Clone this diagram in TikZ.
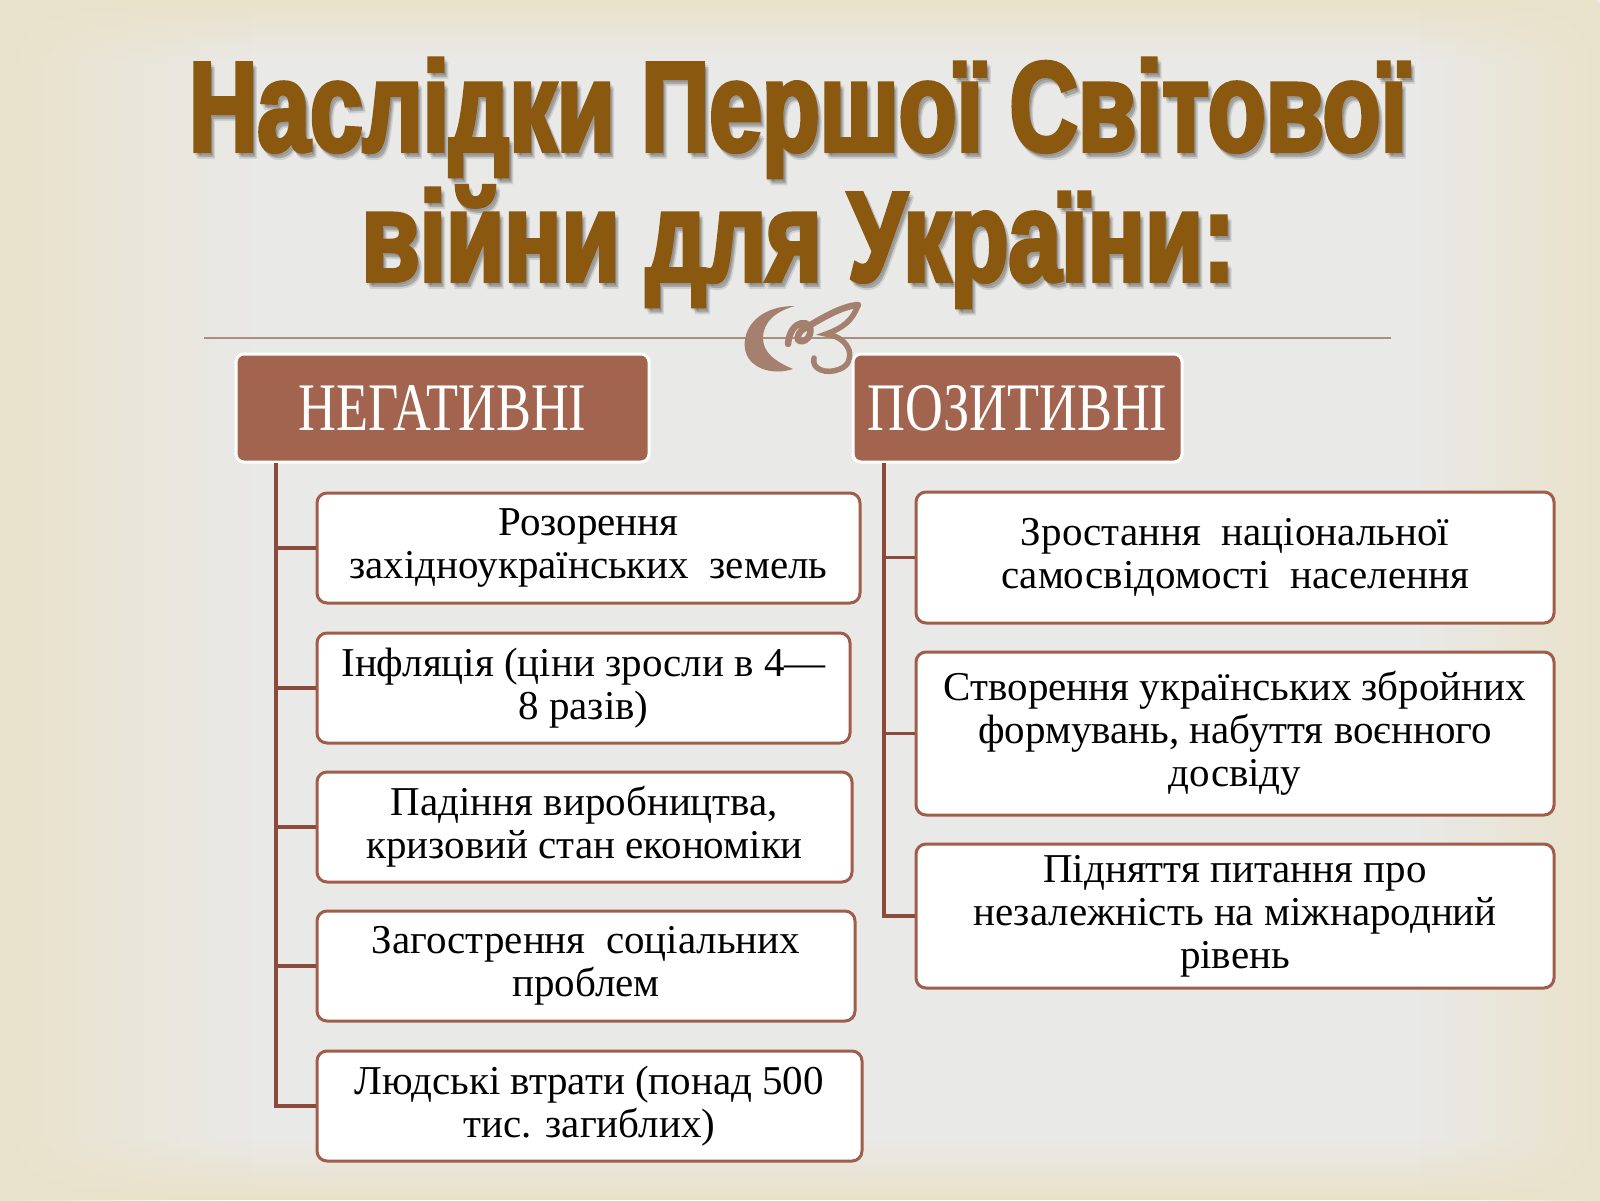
\documentclass[tikz,border=0pt]{standalone}
\usepackage{fontspec}
\setmainfont{Liberation Serif}
\newfontfamily\titlefont[FakeStretch=0.74,FakeBold=3]{Liberation Sans}
\newfontfamily\headfont[FakeStretch=0.77]{Liberation Serif}
\usetikzlibrary{fadings}
\definecolor{titlebrown}{RGB}{138,88,14}
\definecolor{headfill}{RGB}{163,100,79}
\definecolor{boxline}{RGB}{160,94,74}
\definecolor{branchcol}{RGB}{139,74,60}
\definecolor{rulecol}{RGB}{168,144,128}
\definecolor{orncol}{RGB}{166,128,110}
\definecolor{paper}{RGB}{233,233,231}
\definecolor{beige}{RGB}{234,226,202}
\tikzfading[name=fadeleft, left color=transparent!0, right color=transparent!100]
\tikzfading[name=faderight, left color=transparent!100, right color=transparent!0]
\tikzfading[name=fadetop, top color=transparent!0, bottom color=transparent!100]
\tikzfading[name=fadebottom, top color=transparent!100, bottom color=transparent!0]
\tikzset{
  headbox/.style={fill=headfill, draw=white, line width=3pt, rounded corners=8pt,
    text=white, font=\headfont\fontsize{68}{68}\selectfont, inner sep=0pt},
  itembox/.style={fill=white, draw=boxline, line width=3pt, rounded corners=10pt,
    align=center, font=\fontsize{41}{43}\selectfont, inner sep=0pt},
  branch/.style={draw=branchcol, line width=3.5pt},
  titletext/.style={anchor=base, font=\titlefont\bfseries\fontsize{128}{128}\selectfont},
}
\begin{document}
\begin{tikzpicture}[x=1pt,y=-1pt]
% background
\fill[paper] (0,0) rectangle (1600,1200);
\fill[beige, path fading=fadetop, fit fading=true] (0,0) rectangle (1600,60);
\fill[beige, path fading=fadebottom, fit fading=true] (0,1140) rectangle (1600,1200);
\fill[beige, path fading=fadeleft, fit fading=true] (0,0) rectangle (250,1200);
\fill[beige, path fading=faderight, fit fading=true] (1420,0) rectangle (1600,1200);
\useasboundingbox (0,0) rectangle (1600,1200);

% title with soft shadow
\foreach \dx/\dy in {1/2,3/4,4/6}{
  \node[titletext, text=black, opacity=0.1] at (798+\dx,151+\dy) {Наслідки Першої Світової};
  \node[titletext, text=black, opacity=0.1] at (798+\dx,281+\dy) {війни для України:};
}
\node[titletext, text=titlebrown] (title1) at (798,151) {Наслідки Першої Світової};
\node[titletext, text=titlebrown] (title2) at (798,281) {війни для України:};

% rule with ornament
\coordinate (ruleL) at (204,338);
\coordinate (ruleR) at (1391,338);
\draw[rulecol, line width=1.5pt] (ruleL) -- (ruleR);
\fill[orncol] (795,306) .. controls (757,306) and (742,330) .. (745,349)
  .. controls (748,368) and (772,376) .. (793,369)
  .. controls (774,361) and (763,352) .. (763,338)
  .. controls (763,322) and (776,311) .. (795,306) -- cycle;
\draw[orncol, line width=6.5pt, line cap=round]
  (788,344) .. controls (790,318) and (814,318) .. (810,334)
  .. controls (806,346) and (790,342) .. (802,330)
  .. controls (822,318) and (842,306) .. (858,305);
\draw[orncol, line width=5.5pt, line cap=round]
  (858,305) .. controls (853,320) and (843,328) .. (826,334)
  .. controls (853,338) and (856,363) .. (840,369)
  .. controls (826,375) and (811,369) .. (814,358);

% headers
\node[headbox, minimum width=413, minimum height=108] (neg) at (442.5,408) {НЕГАТИВНІ};
\node[headbox, minimum width=329, minimum height=108] (pos) at (1017.5,408) {ПОЗИТИВНІ};

% negative items
\node[itembox, minimum width=543, minimum height=110] (n1) at (588.5,548) {Розорення\\західноукраїнських\ \ земель};
\node[itembox, minimum width=533, minimum height=110] (n2) at (583.5,688) {Інфляція (ціни зросли в 4—\\8 разів)};
\node[itembox, minimum width=535, minimum height=110] (n3) at (584.5,827) {Падіння виробництва,\\кризовий стан економіки};
\node[itembox, minimum width=538, minimum height=110] (n4) at (586,966) {Загострення\ \ соціальних\\проблем};
\node[itembox, minimum width=545, minimum height=110] (n5) at (589.5,1106) {Людські втрати (понад 500\\тис. загиблих)};

% positive items
\node[itembox, minimum width=638, minimum height=131] (p1) at (1235,557.5) {Зростання\ \ національної\\самосвідомості\ \ населення};
\node[itembox, minimum width=638, minimum height=163] (p2) at (1235,733.5) {Створення українських збройних\\формувань, набуття воєнного\\досвіду};
\node[itembox, minimum width=638, minimum height=144] (p3) at (1235,916) {Підняття питання про\\незалежність на міжнародний\\рівень};

% connectors
\coordinate (negtrunk) at (276,463);
\coordinate (postrunk) at (884,463);
\draw[branch] (negtrunk) |- (n5.west);
\foreach \n in {n1,n2,n3,n4}
  \draw[branch] (negtrunk |- \n.west) -- (\n.west);
\draw[branch] (postrunk) |- (p3.west);
\foreach \n in {p1,p2}
  \draw[branch] (postrunk |- \n.west) -- (\n.west);
\end{tikzpicture}
\end{document}
